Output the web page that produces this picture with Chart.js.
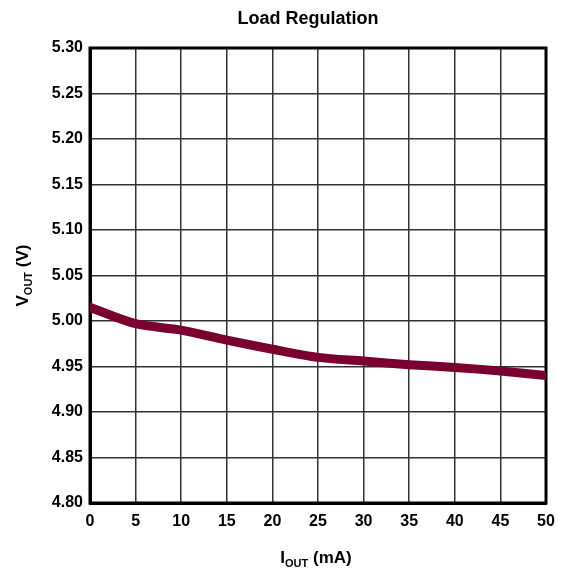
<!DOCTYPE html>
<html>
<head>
<meta charset="utf-8">
<script src="https://cdn.jsdelivr.net/npm/chart.js@4"></script>
<style>
  html, body { margin: 0; padding: 0; background: #fff; }
  #wrap { width: 565px; height: 575px; }
</style>
</head>
<body>
<div id="wrap"><canvas id="chart"></canvas></div>
<script>
const iout = [0, 5, 10, 15, 20, 25, 30, 35, 40, 45, 50];
const vout = [5.015, 4.997, 4.990, 4.979, 4.969, 4.960, 4.956, 4.952, 4.949, 4.945, 4.940];
const yTicks = [4.80, 4.85, 4.90, 4.95, 5.00, 5.05, 5.10, 5.15, 5.20, 5.25, 5.30];

const FONT = '"Liberation Sans", Arial, sans-serif';

// thick frame round the plot area
const frame = {
  id: 'frame',
  beforeDatasetsDraw(chart) {
    const {ctx, chartArea: a} = chart;
    ctx.save();
    ctx.strokeStyle = '#000';
    ctx.lineWidth = 3;
    ctx.strokeRect(a.left, a.top, a.right - a.left, a.bottom - a.top);
    ctx.restore();
  }
};

// title and axis titles with subscripts
const labels = {
  id: 'labels',
  afterDraw(chart) {
    const {ctx, chartArea} = chart;
    ctx.save();
    ctx.fillStyle = '#000';
    ctx.textBaseline = 'alphabetic';

    ctx.font = 'bold 18px ' + FONT;
    ctx.textAlign = 'center';
    ctx.fillText('Load Regulation', (chartArea.left + chartArea.right) / 2 - 10, 24);

    function sub(main, s, rest, x, y) {
      ctx.font = 'bold 17px ' + FONT;
      const w1 = ctx.measureText(main).width;
      ctx.font = 'bold 11px ' + FONT;
      const w2 = ctx.measureText(s).width;
      ctx.font = 'bold 17px ' + FONT;
      const w3 = ctx.measureText(rest).width;
      let sx = x - (w1 + w2 + w3) / 2;
      ctx.textAlign = 'left';
      ctx.fillText(main, sx, y);
      ctx.font = 'bold 11px ' + FONT;
      ctx.fillText(s, sx + w1, y + 4);
      ctx.font = 'bold 17px ' + FONT;
      ctx.fillText(rest, sx + w1 + w2, y);
    }

    sub('I', 'OUT', ' (mA)', (chartArea.left + chartArea.right) / 2 - 2, 563);

    ctx.translate(28, (chartArea.top + chartArea.bottom) / 2);
    ctx.rotate(-Math.PI / 2);
    sub('V', 'OUT', ' (V)', 0, 0);
    ctx.restore();
  }
};

new Chart(document.getElementById('chart'), {
  type: 'line',
  data: {
    datasets: [{
      data: iout.map((x, i) => ({x: x, y: vout[i]})),
      borderColor: '#7a0030',
      borderWidth: 9,
      pointRadius: 0,
      tension: 0.3,
      borderCapStyle: 'round',
      borderJoinStyle: 'round'
    }]
  },
  options: {
    responsive: true,
    maintainAspectRatio: false,
    animation: false,
    layout: { padding: { top: 48, right: 19, left: 0, bottom: 0 } },
    plugins: { legend: { display: false }, tooltip: { enabled: false } },
    scales: {
      x: {
        type: 'linear',
        min: 0, max: 50,
        afterBuildTicks(axis) { axis.ticks = iout.map(v => ({value: v})); },
        afterFit(axis) { axis.height = 72; },
        grid: { color: '#333', lineWidth: 1.5, drawTicks: false },
        border: { color: '#000', width: 3 },
        ticks: {
          padding: 9,
          color: '#000',
          font: { family: FONT, size: 16, weight: 'bold' }
        }
      },
      y: {
        type: 'linear',
        min: 4.80, max: 5.30,
        afterBuildTicks(axis) { axis.ticks = yTicks.map(v => ({value: v})); },
        afterFit(axis) { axis.width = 90; },
        grid: { color: '#333', lineWidth: 1.5, drawTicks: false },
        border: { color: '#000', width: 3 },
        ticks: {
          padding: 7,
          color: '#000',
          font: { family: FONT, size: 16, weight: 'bold' },
          callback: v => v.toFixed(2)
        }
      }
    }
  },
  plugins: [frame, labels]
});
</script>
</body>
</html>
